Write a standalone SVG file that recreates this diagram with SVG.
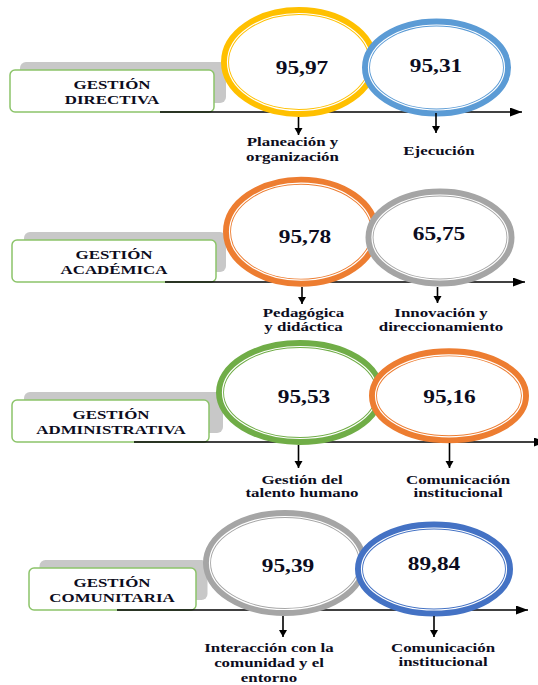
<svg xmlns="http://www.w3.org/2000/svg" width="538" height="685" viewBox="0 0 538 685">
<style>
.shadow{fill:#c8c8c8}
.box{fill:#fff;stroke:#8cc46a;stroke-width:1.5}
.ring{fill:#fff;stroke-width:8}
.gap{fill:none;stroke:#fff;stroke-width:1.2}
.t{font-family:"Liberation Serif","Times New Roman",serif;font-weight:bold;fill:#0c0c20;text-anchor:middle}
.title{font-size:13px}
.num{font-size:18px}
.lbl{font-size:13px}
.main{stroke:#000;stroke-width:1.6;fill:none}
.down{stroke:#000;stroke-width:1.6;fill:none}
.yel{stroke:#ffc000}.blu{stroke:#5b9bd5}.org{stroke:#ed7d31}.gry{stroke:#a5a5a5}.grn{stroke:#70ad47}.dbl{stroke:#4472c4}
</style>
<defs>
<marker id="ah" markerUnits="userSpaceOnUse" markerWidth="13" markerHeight="10" refX="12" refY="4.5" orient="auto"><path d="M0,0 L12,4.5 L0,9 z" fill="#000"/></marker>
<marker id="dh" markerUnits="userSpaceOnUse" markerWidth="9" markerHeight="9" refX="7" refY="4" orient="auto"><path d="M0,0 L7,4 L0,8 z" fill="#000"/></marker>
</defs>

<!-- Section 1 -->
<g id="directiva">
<rect class="shadow" x="20" y="62" width="206" height="41" rx="6"/>
<rect class="box" x="10" y="70" width="204" height="42" rx="5"/>
<text class="t title" transform="translate(112,88.5) scale(1.3,1)">GESTIÓN</text>
<text class="t title" transform="translate(112,103.5) scale(1.3,1)">DIRECTIVA</text>
</g>
<g id="connectors1">
<line class="main" x1="160" y1="112" x2="522" y2="112" marker-end="url(#ah)"/>
</g>
<g id="planeacion">
<ellipse class="ring yel" cx="299" cy="62" rx="74" ry="51"/>
<ellipse class="gap" cx="299" cy="62" rx="71.5" ry="48.5"/>
<text class="t num" transform="translate(302,74) scale(1.3,1)">95,97</text>
</g>
<g id="ejecucion">
<ellipse class="ring blu" cx="436.5" cy="67.5" rx="70.5" ry="45"/>
<ellipse class="gap" cx="436.5" cy="67.5" rx="68" ry="42.5"/>
<text class="t num" transform="translate(436,72) scale(1.3,1)">95,31</text>
</g>

<!-- Section 2 -->
<g id="academica">
<rect class="shadow" x="24" y="232" width="202" height="40" rx="6"/>
<rect class="box" x="12" y="240" width="204" height="42" rx="5"/>
<text class="t title" transform="translate(114,258.5) scale(1.3,1)">GESTIÓN</text>
<text class="t title" transform="translate(114,273.5) scale(1.3,1)">ACADÉMICA</text>
</g>
<g id="connectors2">
<line class="main" x1="165" y1="282" x2="525" y2="282" marker-end="url(#ah)"/>
</g>
<g id="pedagogica">
<ellipse class="ring org" cx="301" cy="231.7" rx="74" ry="51"/>
<ellipse class="gap" cx="301" cy="231.7" rx="71.5" ry="48.5"/>
<text class="t num" transform="translate(305,242.7) scale(1.3,1)">95,78</text>
</g>
<g id="innovacion">
<ellipse class="ring gry" cx="440" cy="237.5" rx="70.5" ry="45"/>
<ellipse class="gap" cx="440" cy="237.5" rx="68" ry="42.5"/>
<text class="t num" transform="translate(439,240) scale(1.3,1)">65,75</text>
</g>

<!-- Section 3 -->
<g id="administrativa">
<rect class="shadow" x="24" y="392" width="199" height="41" rx="6"/>
<rect class="box" x="12" y="400" width="197" height="42" rx="5"/>
<text class="t title" transform="translate(111,418.5) scale(1.3,1)">GESTIÓN</text>
<text class="t title" transform="translate(111,433.5) scale(1.3,1)">ADMINISTRATIVA</text>
</g>
<g id="connectors3">
<line class="main" x1="134" y1="442" x2="546" y2="442" marker-end="url(#ah)"/>
</g>
<g id="talento">
<ellipse class="ring grn" cx="300" cy="392.5" rx="80" ry="48.5"/>
<ellipse class="gap" cx="300" cy="392.5" rx="77.5" ry="46"/>
<text class="t num" transform="translate(304,403) scale(1.3,1)">95,53</text>
</g>
<g id="comunicacion1">
<ellipse class="ring org" cx="449" cy="395.8" rx="76" ry="43.5"/>
<ellipse class="gap" cx="449" cy="395.8" rx="73.5" ry="41"/>
<text class="t num" transform="translate(449.5,403) scale(1.3,1)">95,16</text>
</g>

<!-- Section 4 -->
<g id="comunitaria">
<rect class="shadow" x="39.5" y="560" width="168" height="40" rx="6"/>
<rect class="box" x="29" y="568" width="167" height="42" rx="5"/>
<text class="t title" transform="translate(112,586.7) scale(1.3,1)">GESTIÓN</text>
<text class="t title" transform="translate(112,601.7) scale(1.3,1)">COMUNITARIA</text>
</g>
<g id="connectors4">
<line class="main" x1="117" y1="610" x2="528" y2="610" marker-end="url(#ah)"/>
</g>
<g id="interaccion">
<ellipse class="ring gry" cx="285" cy="563" rx="78" ry="49"/>
<ellipse class="gap" cx="285" cy="563" rx="75.5" ry="46.5"/>
<text class="t num" transform="translate(288,571.5) scale(1.3,1)">95,39</text>
</g>
<g id="comunicacion2">
<ellipse class="ring dbl" cx="434" cy="569" rx="75" ry="43.5"/>
<ellipse class="gap" cx="434" cy="569" rx="72.5" ry="41"/>
<text class="t num" transform="translate(434,570) scale(1.3,1)">89,84</text>
</g>

<!-- Down connectors -->
<g id="connectors">
<line class="down" x1="298.5" y1="117" x2="298.5" y2="135" marker-end="url(#dh)"/>
<line class="down" x1="436" y1="113" x2="436" y2="133" marker-end="url(#dh)"/>
<line class="down" x1="302" y1="287" x2="302" y2="304" marker-end="url(#dh)"/>
<line class="down" x1="437.5" y1="287" x2="437.5" y2="303" marker-end="url(#dh)"/>
<line class="down" x1="298.5" y1="445" x2="298.5" y2="468" marker-end="url(#dh)"/>
<line class="down" x1="449.5" y1="443" x2="449.5" y2="468" marker-end="url(#dh)"/>
<line class="down" x1="283" y1="616" x2="283" y2="637" marker-end="url(#dh)"/>
<line class="down" x1="434" y1="616" x2="434" y2="637" marker-end="url(#dh)"/>
</g>

<!-- Labels -->
<g id="labels">
<text class="t lbl" transform="translate(292.5,146) scale(1.3,1)">Planeación y</text>
<text class="t lbl" transform="translate(292.5,160.5) scale(1.3,1)">organización</text>
<text class="t lbl" transform="translate(439,155) scale(1.3,1)">Ejecución</text>
<text class="t lbl" transform="translate(303.5,317) scale(1.3,1)">Pedagógica</text>
<text class="t lbl" transform="translate(303.5,330.5) scale(1.3,1)">y didáctica</text>
<text class="t lbl" transform="translate(441,317) scale(1.3,1)">Innovación y</text>
<text class="t lbl" transform="translate(441,330.5) scale(1.3,1)">direccionamiento</text>
<text class="t lbl" transform="translate(302,483.5) scale(1.3,1)">Gestión del</text>
<text class="t lbl" transform="translate(302,497) scale(1.3,1)">talento humano</text>
<text class="t lbl" transform="translate(458,483.5) scale(1.3,1)">Comunicación</text>
<text class="t lbl" transform="translate(458,497) scale(1.3,1)">institucional</text>
<text class="t lbl" transform="translate(269,652) scale(1.3,1)">Interacción con la</text>
<text class="t lbl" transform="translate(269,667) scale(1.3,1)">comunidad y el</text>
<text class="t lbl" transform="translate(269,682) scale(1.3,1)">entorno</text>
<text class="t lbl" transform="translate(443,652) scale(1.3,1)">Comunicación</text>
<text class="t lbl" transform="translate(443,665.5) scale(1.3,1)">institucional</text>
</g>
</svg>
